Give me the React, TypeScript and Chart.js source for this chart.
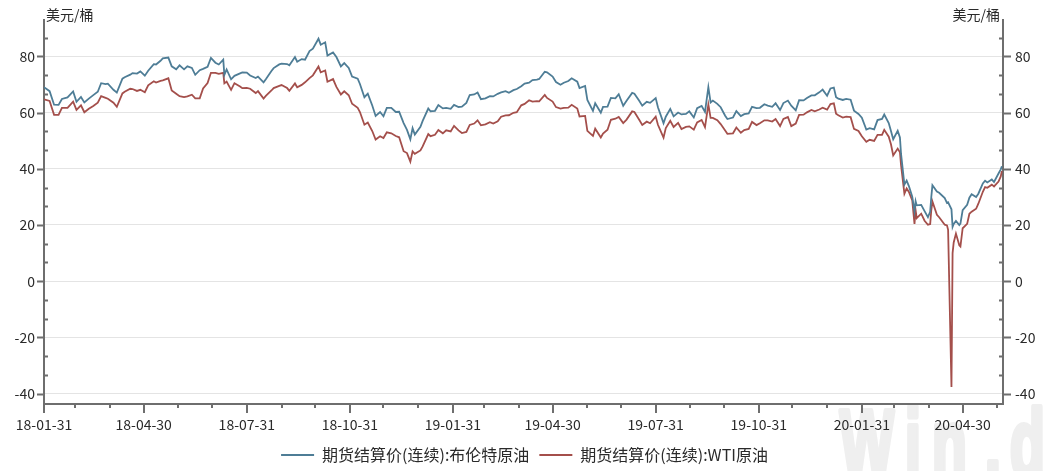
import React, { useEffect, useRef } from 'react';
import { Chart, registerables } from 'chart.js';

Chart.register(...registerables);

// ---------------- data ----------------
const seriesNames = ['期货结算价(连续):布伦特原油', '期货结算价(连续):WTI原油'];
const unitLabel = '美元/桶';
const startDate = '2018-01-31';
const endDate = '2020-06-05';
const yTickValues = [-40, -20, 0, 20, 40, 60, 80];

const dates2018 = [
  '01-31','02-05','02-09','02-13','02-16','02-21','02-26','03-01','03-05','03-08',
  '03-12','03-16','03-20','03-23','03-27','03-29','04-03','04-06','04-11','04-13',
  '04-18','04-20','04-24','04-27','05-01','05-04','05-09','05-11','05-15','05-17',
  '05-22','05-25','05-29','06-01','06-05','06-08','06-12','06-15','06-19','06-22',
  '06-26','06-29','07-03','07-06','07-10','07-11','07-13','07-17','07-20','07-25',
  '07-27','07-31','08-03','08-08','08-10','08-15','08-17','08-22','08-24','08-29',
  '08-31','09-05','09-07','09-12','09-14','09-18','09-21','09-25','09-28','10-03',
  '10-05','10-09','10-11','10-16','10-19','10-23','10-26','10-30','11-02','11-07',
  '11-09','11-13','11-16','11-20','11-23','11-27','11-30','12-03','12-07','12-11',
  '12-14','12-18','12-21','12-24','12-26','12-28',
];
const brent2018 = [
  69.05,67.62,62.79,62.72,64.84,65.42,67.50,63.83,65.54,63.61,
  64.95,66.21,67.42,70.45,70.11,70.27,68.12,67.11,72.06,72.58,
  73.48,74.06,73.86,74.64,73.13,74.87,77.21,77.12,78.43,79.30,
  79.57,76.44,75.39,76.79,75.38,76.46,75.88,73.44,75.08,75.55,
  76.31,79.44,77.76,77.11,78.86,73.40,75.33,71.84,73.07,73.93,
  74.29,74.25,73.21,72.28,72.81,70.76,71.83,74.78,75.82,77.14,
  77.42,77.27,76.83,79.74,78.09,79.03,78.80,81.87,82.72,86.29,
  84.16,85.00,80.26,81.41,79.78,76.44,77.62,75.91,72.83,72.07,
  70.18,65.47,66.76,62.53,58.80,60.21,58.71,61.69,61.67,60.20,
  60.28,56.26,53.82,50.47,54.47,52.20,
];
const wti2018 = [
  64.73,64.15,59.20,59.19,61.68,61.68,63.91,60.99,62.57,60.12,
  61.36,62.34,63.54,65.88,65.25,64.94,63.51,62.06,66.82,67.39,
  68.47,68.38,67.70,68.10,67.25,69.72,71.14,70.70,71.31,71.49,
  72.20,67.88,66.73,65.81,65.52,65.74,66.36,65.06,65.07,68.58,
  70.53,74.15,74.14,73.80,74.11,70.38,71.01,68.08,70.46,69.30,
  68.69,68.76,68.49,66.94,67.63,65.01,65.91,67.86,68.72,69.51,
  69.80,68.72,67.75,70.37,68.99,69.85,70.78,72.28,73.25,76.41,
  74.34,74.96,70.97,71.92,69.12,66.43,67.59,66.18,63.14,61.67,
  60.19,55.69,56.46,53.43,50.42,51.56,50.93,52.95,52.61,51.65,
  51.20,46.24,45.59,42.53,46.22,45.33,
];

const dates2019 = [
  '01-02','01-04','01-09','01-11','01-15','01-18','01-22','01-25','01-29','02-01',
  '02-05','02-08','02-12','02-15','02-19','02-22','02-25','03-01','03-05','03-08',
  '03-12','03-15','03-19','03-22','03-26','03-29','04-02','04-05','04-09','04-12',
  '04-16','04-18','04-23','04-25','04-30','05-03','05-07','05-10','05-14','05-17',
  '05-22','05-24','05-29','05-31','06-05','06-07','06-12','06-14','06-18','06-21',
  '06-25','06-28','07-02','07-05','07-10','07-12','07-16','07-19','07-23','07-26',
  '07-31','08-02','08-07','08-09','08-13','08-16','08-20','08-23','08-27','08-30',
  '09-03','09-06','09-10','09-13','09-16','09-18','09-20','09-24','09-27','10-01',
  '10-03','10-08','10-11','10-15','10-18','10-22','10-25','10-29','11-01','11-05',
  '11-08','11-12','11-15','11-19','11-22','11-26','11-29','12-03','12-06','12-10',
  '12-13','12-17','12-20','12-24','12-27','12-31',
];
const brent2019 = [
  54.91,57.06,61.44,60.48,60.64,62.70,61.50,61.64,61.32,62.75,
  61.98,62.10,63.42,66.25,66.45,67.12,64.76,65.07,65.86,65.74,
  66.67,67.16,67.61,67.03,67.97,68.39,69.37,70.34,70.61,71.55,
  71.72,71.97,74.51,74.35,72.80,70.85,69.88,70.62,71.24,72.21,
  70.99,68.69,69.45,64.49,60.63,63.29,59.97,62.01,62.14,65.20,
  65.05,66.55,62.40,64.23,67.01,66.72,64.35,62.47,63.83,63.46,
  65.17,61.89,56.23,58.53,61.30,58.64,60.03,59.34,59.51,60.43,
  58.26,61.54,62.38,60.22,69.02,63.60,64.28,63.10,61.91,58.89,
  57.71,58.24,60.51,58.74,59.42,59.70,62.02,61.59,61.69,62.96,
  62.51,62.06,63.30,60.91,63.39,64.27,62.43,60.82,64.39,64.34,
  65.22,66.10,66.14,67.20,68.16,66.00,
];
const wti2019 = [
  46.54,47.96,52.36,51.59,52.11,53.80,52.61,53.69,53.31,55.26,
  53.66,52.72,53.10,55.59,56.09,57.26,55.48,55.80,56.56,56.07,
  56.87,58.52,59.03,59.04,59.94,60.14,62.58,63.08,64.40,63.89,
  64.05,64.00,66.30,65.21,63.91,61.94,61.40,61.66,61.78,62.76,
  61.42,58.63,58.81,53.50,51.68,54.26,51.14,52.51,53.90,57.43,
  57.83,58.47,56.25,57.51,60.43,60.21,57.62,55.63,56.77,56.20,
  58.58,55.66,51.09,54.50,57.10,54.87,56.34,54.17,54.93,55.10,
  53.94,56.52,57.40,54.85,62.90,58.11,58.09,57.29,55.91,53.62,
  52.45,52.63,54.70,52.81,53.78,54.16,56.66,55.54,56.20,57.23,
  57.24,56.80,57.72,55.21,57.77,58.41,55.17,56.10,59.20,59.24,
  60.07,60.94,60.44,61.11,61.72,61.06,
];

const dates2020 = [
  '01-03','01-06','01-08','01-10','01-14','01-17','01-21','01-24','01-28','01-31',
  '02-04','02-07','02-11','02-14','02-18','02-20','02-24','02-26','02-28','03-03',
  '03-05','03-06','03-09','03-11','03-13','03-16','03-18','03-19','03-20','03-24',
  '03-27','03-30','04-01','04-02','04-03','04-07','04-09','04-14','04-16','04-17',
  '04-20','04-21','04-22','04-24','04-27','04-28','04-30','05-04','05-06','05-08',
  '05-12','05-14','05-18','05-20','05-22','05-26','05-28','06-01','06-03','06-04',
];
const brent2020 = [
  68.60,68.91,65.44,64.98,64.49,64.85,64.59,60.69,59.51,58.16,
  53.96,54.47,54.01,57.32,57.75,59.31,56.30,53.43,50.52,53.49,
  51.13,45.27,34.36,35.79,33.85,30.05,24.88,28.47,26.98,27.15,
  24.93,22.76,24.74,29.94,34.11,31.87,31.48,29.60,27.82,28.08,
  25.57,19.33,20.37,21.44,19.99,20.46,25.27,27.20,29.72,30.97,
  29.98,31.13,34.81,35.75,35.13,36.17,35.29,38.32,39.79,40.90,
];
const wti2020 = [
  63.05,63.27,59.61,59.04,58.23,58.54,58.38,54.19,53.48,51.56,
  49.61,50.32,49.94,52.05,52.05,53.88,51.43,48.73,44.76,47.18,
  45.90,41.28,31.13,32.98,31.73,28.70,20.37,25.22,22.43,24.01,
  21.51,20.09,20.31,25.32,28.34,23.63,22.76,20.11,19.87,18.27,
  -37.63,10.01,13.78,16.94,12.78,12.34,18.84,20.39,23.99,24.74,
  25.78,27.56,31.82,33.49,33.25,34.35,33.71,35.44,37.29,39.20,
];

// ---------------- helpers / styles ----------------
const FONT = '"Noto Sans CJK SC", "Noto Sans", sans-serif';
const BRENT_COLOR = '#4e7d96';
const WTI_COLOR = '#a44f4b';
const AXIS_COLOR = '#6e6e6e';
const TEXT_COLOR = '#2a2a2a';
const Y_MIN = -43.7;
const Y_MAX = 92.8;

const dayUTC = (s: string) => {
  const [y, m, d] = s.split('-').map(Number);
  return Date.UTC(y, m - 1, d);
};
const toDay = (s: string) => Math.round((dayUTC(s) - dayUTC(startDate)) / 86400000);
const X_MAX = toDay(endDate);

const allDates = [
  ...dates2018.map((d) => '2018-' + d),
  ...dates2019.map((d) => '2019-' + d),
  ...dates2020.map((d) => '2020-' + d),
];
const brentAll = [...brent2018, ...brent2019, ...brent2020];
const wtiAll = [...wti2018, ...wti2019, ...wti2020];

const brentPts = allDates.map((d, i) => ({ x: toDay(d), y: brentAll[i] }));
const wtiPts = allDates.map((d, i) => ({ x: toDay(d), y: wtiAll[i] }));

// month-end ticks (quarter-ends are labelled)
type MTick = { off: number; major: boolean; label: string };
const monthTicks: MTick[] = [];
for (let y = 2018; y <= 2020; y++) {
  for (let m = 0; m < 12; m++) {
    const dt = new Date(Date.UTC(y, m + 1, 0));
    const off = Math.round((dt.getTime() - dayUTC(startDate)) / 86400000);
    if (off < 0 || off > X_MAX) continue;
    const mm = String(m + 1).padStart(2, '0');
    const dd = String(dt.getUTCDate()).padStart(2, '0');
    monthTicks.push({ off, major: (m + 1) % 3 === 1, label: `${String(y).slice(2)}-${mm}-${dd}` });
  }
}
const majorTicks = monthTicks.filter((t) => t.major);

const decorPlugin = {
  id: 'decor',
  beforeDraw(chart: any) {
    const ctx = chart.ctx;
    ctx.save();
    ctx.fillStyle = '#efefef';
    ctx.strokeStyle = '#efefef';
    ctx.lineWidth = 6;
    ctx.lineJoin = 'round';
    ctx.font = 'bold 95px "Liberation Sans", sans-serif';
    ctx.textBaseline = 'alphabetic';
    const letters: [string, number][] = [['W', 840], ['i', 905], ['n', 932], ['.', 985], ['d', 1010]];
    for (const [ch, x] of letters) {
      ctx.save();
      ctx.translate(x, 476);
      ctx.scale(0.6, 1);
      ctx.strokeText(ch, 0, 0);
      ctx.fillText(ch, 0, 0);
      ctx.restore();
    }
    ctx.restore();
  },
  afterDraw(chart: any) {
    const { ctx, chartArea } = chart;
    const { left, right, bottom } = chartArea;
    const xs = chart.scales.x;
    const ys = chart.scales.y;
    ctx.save();
    ctx.strokeStyle = AXIS_COLOR;
    ctx.lineWidth = 2;
    ctx.beginPath();
    for (const t of monthTicks) {
      const px = Math.round(xs.getPixelForValue(t.off));
      ctx.moveTo(px, bottom);
      ctx.lineTo(px, bottom + (t.major ? 9 : 4));
    }
    for (let k = -7; k <= 14; k++) {
      const v = (k * 20) / 3;
      if (v < Y_MIN || v > Y_MAX) continue;
      const py = Math.round(ys.getPixelForValue(v)) + 0.5;
      const major = k % 3 === 0;
      if (major) {
        ctx.moveTo(left - 7, py); ctx.lineTo(left, py);
        ctx.moveTo(right, py); ctx.lineTo(right + 8, py);
      } else {
        ctx.moveTo(left, py); ctx.lineTo(left + 4, py);
        ctx.moveTo(right - 4, py); ctx.lineTo(right, py);
      }
    }
    ctx.stroke();
    ctx.fillStyle = TEXT_COLOR;
    ctx.font = `14px ${FONT}`;
    ctx.textBaseline = 'middle';
    ctx.textAlign = 'left';
    ctx.fillText(unitLabel, left + 2, 15);
    ctx.textAlign = 'right';
    ctx.fillText(unitLabel, right - 3, 15);
    ctx.restore();
  },
};

export default function App() {
  const ref = useRef<HTMLCanvasElement>(null);
  useEffect(() => {
    const canvas = ref.current;
    if (!canvas) return;
    const yTicksCfg = (s: any) => {
      s.ticks = yTickValues.map((v) => ({ value: v }));
    };
    const chart = new Chart(canvas, {
      type: 'line',
      data: {
        datasets: [
          {
            label: seriesNames[0],
            data: brentPts,
            borderColor: BRENT_COLOR,
            backgroundColor: BRENT_COLOR,
            borderWidth: 1.8,
            pointRadius: 0,
            tension: 0,
            yAxisID: 'y',
          },
          {
            label: seriesNames[1],
            data: wtiPts,
            borderColor: WTI_COLOR,
            backgroundColor: WTI_COLOR,
            borderWidth: 1.8,
            pointRadius: 0,
            tension: 0,
            yAxisID: 'y',
          },
        ],
      },
      options: {
        animation: false,
        responsive: false,
        devicePixelRatio: 1,
        layout: { padding: { top: 13, left: 0, right: 0, bottom: -2 } },
        plugins: {
          tooltip: { enabled: false },
          legend: {
            position: 'bottom',
            labels: {
              boxWidth: 33,
              boxHeight: 2,
              padding: 10,
              color: TEXT_COLOR,
              font: { family: FONT, size: 16 },
              generateLabels: (c: any) =>
                (Chart.defaults.plugins.legend.labels as any)
                  .generateLabels(c)
                  .map((l: any) => ({ ...l, lineWidth: 0, fillStyle: l.strokeStyle })),
            },
          },
        },
        scales: {
          x: {
            type: 'linear',
            min: 0,
            max: X_MAX,
            afterBuildTicks: (s: any) => {
              s.ticks = majorTicks.map((t) => ({ value: t.off }));
            },
            afterFit: (s: any) => {
              s.height = 33;
            },
            ticks: {
              autoSkip: false,
              maxRotation: 0,
              minRotation: 0,
              padding: 12,
              color: TEXT_COLOR,
              font: { family: FONT, size: 14 },
              callback: (v: any) => {
                const t = majorTicks.find((m) => m.off === v);
                return t ? t.label : '';
              },
            },
            grid: { drawOnChartArea: false, drawTicks: false },
            border: { display: true, color: AXIS_COLOR, width: 2 },
          },
          y: {
            position: 'left',
            min: Y_MIN,
            max: Y_MAX,
            afterBuildTicks: yTicksCfg,
            afterFit: (s: any) => {
              s.width = 44;
            },
            ticks: {
              padding: 9,
              color: TEXT_COLOR,
              font: { family: FONT, size: 14 },
              callback: (v: any) => String(v),
            },
            grid: { color: '#e4e4e4', lineWidth: 1, drawTicks: false },
            border: { display: true, color: AXIS_COLOR, width: 2 },
          },
          y2: {
            position: 'right',
            min: Y_MIN,
            max: Y_MAX,
            afterBuildTicks: yTicksCfg,
            afterFit: (s: any) => {
              s.width = 46;
            },
            ticks: {
              padding: 12,
              color: TEXT_COLOR,
              font: { family: FONT, size: 14 },
              callback: (v: any) => String(v),
            },
            grid: { drawOnChartArea: false, drawTicks: false },
            border: { display: true, color: AXIS_COLOR, width: 2 },
          },
        },
      } as any,
      plugins: [decorPlugin],
    });
    return () => chart.destroy();
  }, []);

  return (
    <div style={{ position: 'absolute', left: 0, top: 0, width: 1049, height: 471, background: '#fff' }}>
      <canvas ref={ref} width={1049} height={471} style={{ display: 'block', width: 1049, height: 471 }} />
    </div>
  );
}
